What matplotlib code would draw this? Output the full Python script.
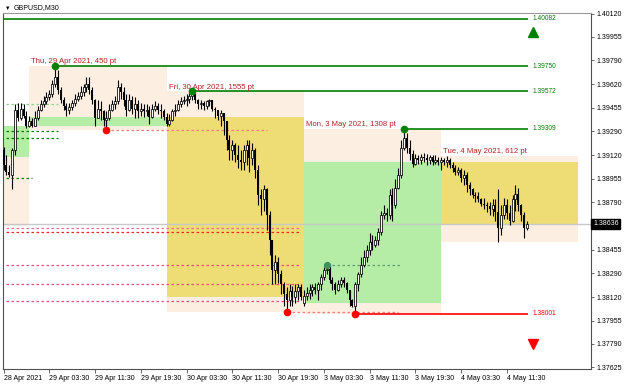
import matplotlib
matplotlib.use('Agg')
import matplotlib.pyplot as plt
import numpy as np
from matplotlib.patches import Rectangle
from matplotlib.transforms import blended_transform_factory

plt.rcParams['font.family'] = ['Liberation Sans', 'DejaVu Sans']

symbol = 'GBPUSD,M30'

# M30 bars, bar 0 = 28 Apr 2021 19:30 ... bar 183 = 4 May 2021 15:00
first_open = 1.3916
closes = [
    # 28 Apr (tail)
    1.3905, 1.3900, 1.3898, 1.3916, 1.3944, 1.3938, 1.3945, 1.3940, 1.3933,
    # 29 Apr
    1.3936, 1.3933, 1.3938, 1.3944, 1.3948, 1.3950, 1.3953, 1.3955, 1.3962, 1.3967,
    1.3958, 1.3951, 1.3947, 1.3944, 1.3946, 1.3949, 1.3952, 1.3954, 1.3957, 1.3960,
    1.3962, 1.3958, 1.3951, 1.3938, 1.3945, 1.3943, 1.3937, 1.3938, 1.3944, 1.3948,
    1.3950, 1.3960, 1.3957, 1.3951, 1.3944, 1.3951, 1.3945, 1.3948, 1.3943, 1.3945,
    1.3943, 1.3944, 1.3939, 1.3945, 1.3947, 1.3944, 1.3943, 1.3939,
    # 30 Apr
    1.3934, 1.3937, 1.3943, 1.3944, 1.3948, 1.3950, 1.3951, 1.3952, 1.3954, 1.3955,
    1.3951, 1.3948, 1.3949, 1.3947, 1.3950, 1.3951, 1.3945, 1.3944, 1.3940, 1.3942,
    1.3936, 1.3923, 1.3916, 1.3919, 1.3912, 1.3909, 1.3907, 1.3916, 1.3919, 1.3910,
    1.3916, 1.3902, 1.3884, 1.3881, 1.3888, 1.3870, 1.3852, 1.3831, 1.3837, 1.3828,
    1.3821, 1.3814, 1.3810, 1.3816, 1.3812, 1.3816, 1.3819, 1.3812,
    # 3 May
    1.3813, 1.3815, 1.3817, 1.3819, 1.3817, 1.3821, 1.3826, 1.3831, 1.3832, 1.3824,
    1.3821, 1.3817, 1.3821, 1.3824, 1.3822, 1.3817, 1.3810, 1.3806, 1.3821, 1.3828,
    1.3835, 1.3840, 1.3845, 1.3851, 1.3849, 1.3852, 1.3858, 1.3870, 1.3871, 1.3870,
    1.3884, 1.3877, 1.3889, 1.3898, 1.3917, 1.3924, 1.3917, 1.3913, 1.3906, 1.3910,
    1.3909, 1.3911, 1.3910, 1.3909, 1.3911, 1.3907, 1.3909, 1.3907,
    # 4 May
    1.3909, 1.3907, 1.3909, 1.3905, 1.3903, 1.3900, 1.3902, 1.3896, 1.3898, 1.3891,
    1.3888, 1.3884, 1.3883, 1.3881, 1.3878, 1.3877, 1.3876, 1.3874, 1.3877, 1.3872,
    1.3861, 1.3870, 1.3877, 1.3871, 1.3866, 1.3881, 1.3885, 1.3877, 1.3870, 1.3861,
    1.38636,
]
highs = [
    1.3918, 1.3912, 1.3905, 1.3917, 1.3948, 1.3949, 1.3949, 1.3948, 1.3943,
    1.3940, 1.3938, 1.3943, 1.3947, 1.3951, 1.3954, 1.3957, 1.3958, 1.3965, 1.3975,
    1.3972, 1.3960, 1.3953, 1.3949, 1.3949, 1.3951, 1.3955, 1.3957, 1.3961, 1.3962,
    1.3967, 1.3967, 1.3960, 1.3952, 1.3951, 1.3950, 1.3944, 1.3943, 1.3948, 1.3951,
    1.3954, 1.3965, 1.3963, 1.3960, 1.3955, 1.3955, 1.3954, 1.3953, 1.3951, 1.3949,
    1.3948, 1.3948, 1.3947, 1.3948, 1.3950, 1.3949, 1.3948, 1.3945,
    1.3942, 1.3941, 1.3945, 1.3948, 1.3951, 1.3953, 1.3954, 1.3955, 1.3956, 1.39572,
    1.3956, 1.3952, 1.3951, 1.3950, 1.3951, 1.3952, 1.3951, 1.3946, 1.3944, 1.3944,
    1.3942, 1.3936, 1.3926, 1.3923, 1.3921, 1.3919, 1.3916, 1.3919, 1.3923, 1.3923,
    1.3921, 1.3917, 1.3905, 1.3888, 1.3891, 1.3889, 1.3873, 1.3852, 1.3842, 1.3840,
    1.3831, 1.3823, 1.3819, 1.3821, 1.3820, 1.3821, 1.3821, 1.3821,
    1.3817, 1.3819, 1.3821, 1.3821, 1.3822, 1.3823, 1.3828, 1.3833, 1.3835, 1.3835,
    1.3826, 1.3823, 1.3824, 1.3826, 1.3826, 1.3823, 1.3817, 1.3811, 1.3823, 1.3830,
    1.3840, 1.3845, 1.3849, 1.3857, 1.3856, 1.3855, 1.3861, 1.3873, 1.3877, 1.3875,
    1.3888, 1.3889, 1.3895, 1.3903, 1.3923, 1.39309, 1.3928, 1.3923, 1.3916, 1.3913,
    1.3912, 1.3913, 1.3914, 1.3913, 1.3912, 1.3912, 1.3912, 1.3911,
    1.3911, 1.3910, 1.39118, 1.3910, 1.3907, 1.3905, 1.3904, 1.3903, 1.3902, 1.3900,
    1.3893, 1.3889, 1.3886, 1.3886, 1.3882, 1.3882, 1.3879, 1.3879, 1.3881, 1.3881,
    1.3888, 1.3877, 1.3882, 1.3881, 1.3877, 1.3884, 1.3891, 1.3889, 1.3878, 1.3872,
    1.3866,
]
lows = [
    1.3902, 1.3898, 1.3897, 1.3888, 1.3912, 1.3936, 1.3937, 1.3938, 1.3931,
    1.3932, 1.3932, 1.3933, 1.3937, 1.3943, 1.3946, 1.3948, 1.3951, 1.3953, 1.3960,
    1.3955, 1.3949, 1.3944, 1.3940, 1.3941, 1.3944, 1.3947, 1.3950, 1.3952, 1.3954,
    1.3957, 1.3955, 1.3948, 1.3933, 1.3938, 1.3937, 1.3933, 1.3930, 1.3937, 1.3943,
    1.3945, 1.3948, 1.3952, 1.3947, 1.3940, 1.3943, 1.3941, 1.3938, 1.3938, 1.3940,
    1.3939, 1.3940, 1.3934, 1.3938, 1.3943, 1.3941, 1.3938, 1.3937,
    1.3933, 1.3933, 1.3936, 1.3940, 1.3943, 1.3946, 1.3948, 1.3947, 1.3949, 1.3951,
    1.3949, 1.3945, 1.3945, 1.3944, 1.3945, 1.3947, 1.3943, 1.3938, 1.3937, 1.3933,
    1.3926, 1.3916, 1.3909, 1.3909, 1.3907, 1.3903, 1.3902, 1.3902, 1.3905, 1.3900,
    1.3905, 1.3896, 1.3877, 1.3870, 1.3873, 1.3859, 1.3842, 1.3821, 1.3821, 1.3822,
    1.3814, 1.3806, 1.38017, 1.3806, 1.3806, 1.3808, 1.3810, 1.3810,
    1.3806, 1.3810, 1.3811, 1.3813, 1.3814, 1.3810, 1.3817, 1.3824, 1.3828, 1.3822,
    1.3817, 1.3814, 1.3816, 1.3819, 1.3819, 1.3815, 1.3806, 1.3805, 1.38001, 1.3816,
    1.3826, 1.3833, 1.3837, 1.3842, 1.3845, 1.3847, 1.3849, 1.3856, 1.3867, 1.3866,
    1.3867, 1.3866, 1.3875, 1.3888, 1.3896, 1.3916, 1.3914, 1.3909, 1.3904, 1.3905,
    1.3906, 1.3906, 1.3907, 1.3905, 1.3906, 1.3905, 1.3906, 1.3905,
    1.3902, 1.3905, 1.3904, 1.3903, 1.3900, 1.3898, 1.3898, 1.3893, 1.3891, 1.3886,
    1.3884, 1.3882, 1.3879, 1.3879, 1.3876, 1.3874, 1.3872, 1.3870, 1.3869, 1.3866,
    1.38506, 1.3856, 1.3867, 1.3867, 1.3863, 1.3865, 1.3873, 1.3873, 1.3866, 1.3854,
    1.3859,
]

tick_bars = [0, 16, 32, 48, 64, 80, 96, 112, 128, 144, 160, 176]
tick_labels = ['28 Apr 2021', '29 Apr 03:30', '29 Apr 11:30', '29 Apr 19:30',
               '30 Apr 03:30', '30 Apr 11:30', '30 Apr 19:30', '3 May 03:30',
               '3 May 11:30', '3 May 19:30', '4 May 03:30', '4 May 11:30']
price_ticks = [1.40120, 1.39955, 1.39790, 1.39620, 1.39455, 1.39290, 1.39120, 1.38955,
               1.38790, 1.38620, 1.38455, 1.38290, 1.38120, 1.37955, 1.37790, 1.37625]

# daily ranges (first bar index of each day, 48 bars per day)
day_start = [-39, 9, 57, 105, 153]
day_names = ['Wed, 28 Apr 2021', 'Thu, 29 Apr 2021', 'Fri, 30 Apr 2021',
             'Mon, 3 May 2021', 'Tue, 4 May 2021']
day_open = [1.3911, 1.3933, 1.3939, 1.3808, 1.3907]
day_high = [1.3933, 1.3975, 1.39572, 1.39309, 1.39118]
day_low = [1.3862, 1.3930, 1.38017, 1.38001, 1.38506]
day_close = [1.3933, 1.3939, 1.3812, 1.3907, 1.38636]

# solid levels with price tags
level_price = [1.40082, 1.39750, 1.39572, 1.39309, 1.38001]
level_from = [-1, 18, 66, 140, 123]
level_color = ['#008000', '#008000', '#008000', '#008000', '#ff0000']

# dashed levels: price, from bar, to bar, colour
dash_price = [1.3948, 1.3929, 1.3924, 1.3896, 1.3861, 1.3858, 1.3835, 1.3821, 1.3809,
              1.3930, 1.38017, 1.3835]
dash_from = [-1, -1, -1, -1, -1, -1, -1, -1, -1, 36, 99, 113]
dash_to = [19, 19, 19, 10, 104, 104, 104, 104, 104, 92, 138, 139]
dash_color = ['#8fd08f', '#008000', '#008000', '#008000', '#f07090', '#ff2020',
              '#ee4f7a', '#ee4f7a', '#ee4f7a', '#f27d7d', '#f27d7d', '#5aa070']

high_dots = [(18, 1.3975), (66, 1.39572), (140, 1.39309)]
low_dots = [(36, 1.3930), (99, 1.38017), (123, 1.38001)]
swing_dot = (113, 1.3835)
arrow_up = (185, 1.3999)
arrow_down = (185, 1.3779)
current = 1.38636

fig = plt.figure(figsize=(6.25, 3.86), dpi=100)
ax = fig.add_axes([3 / 625, 17 / 386, 588 / 625, 356 / 386])

# daily boxes
for s, o, h, l, c in zip(day_start, day_open, day_high, day_low, day_close):
    ax.add_patch(Rectangle((s, l), 48, h - l, facecolor='#fcefe2', edgecolor='none', zorder=0))
    body = '#b5eca6' if c >= o else '#eedc74'
    ax.add_patch(Rectangle((s, min(o, c)), 48, abs(c - o), facecolor=body, edgecolor='none', zorder=0.5))

ax.axhline(current, color='#c8c8c8', lw=1, zorder=1)

for p, a, b, col in zip(dash_price, dash_from, dash_to, dash_color):
    ax.hlines(p, a, b, colors=col, linestyles=(0, (2, 2)), lw=0.9, zorder=1.5)

# candles
closes = np.array(closes)
highs = np.array(highs)
lows = np.array(lows)
x = np.arange(len(closes))
opens = np.r_[first_open, closes[:-1]]
opens[day_start[3]] = day_open[3]
up = closes >= opens
bottom = np.minimum(opens, closes)
height = np.maximum(np.abs(closes - opens), 0.00003)
ax.vlines(x, lows, highs, color='black', lw=0.8, zorder=3)
ax.bar(x[up], height[up], bottom=bottom[up], width=0.7, facecolor='white',
       edgecolor='black', lw=0.55, zorder=4)
ax.bar(x[~up], height[~up], bottom=bottom[~up], width=0.7, color='black', lw=0, zorder=4)

# levels
for p, a, col in zip(level_price, level_from, level_color):
    ax.hlines(p, a, 183.3, colors=col, lw=1.2, zorder=5)
    ax.text(185.1, p, f'{p:.5f}', color=col, fontsize=4.8, va='center', ha='left', zorder=6)

# day labels
for s, name, h, l in list(zip(day_start, day_names, day_high, day_low))[1:]:
    pts = round((h - l) * 1e5)
    ax.text(s + 0.7, h + 0.00004, f'{name}, {pts} pt', color='#b22222', fontsize=5.6,
            va='bottom', ha='left', zorder=6)

ax.plot([d[0] for d in high_dots], [d[1] for d in high_dots], 'o', color='#008000', ms=4.5, zorder=7)
ax.plot([d[0] for d in low_dots], [d[1] for d in low_dots], 'o', color='#ff0000', ms=4.5, zorder=7)
ax.plot(*swing_dot, 'o', color='#3f8f5f', ms=4.2, zorder=7)
ax.plot(*arrow_up, '^', color='#008000', ms=6.5, zorder=7)
ax.plot(*arrow_down, 'v', color='#ff0000', ms=6.5, zorder=7)

ax.set_xlim(-0.175, 205.4)
ax.set_ylim(1.37613, 1.40124)

ax.set_xticks(tick_bars)
ax.set_xticklabels(tick_labels, fontsize=5, ha='left')
ax.yaxis.tick_right()
ax.set_yticks(price_ticks)
# the 1.38620 label sits under the current price tag
ax.set_yticklabels(['' if abs(p - current) < 0.0003 else f'{p:.5f}' for p in price_ticks],
                   fontsize=5)
ax.tick_params(axis='x', length=3, width=0.6, pad=1.5, color='#505050')
ax.tick_params(axis='y', length=2.5, width=0.6, pad=1.5, color='#505050')
for sp in ax.spines.values():
    sp.set_color('#505050')
    sp.set_linewidth(0.8)
ax.spines['top'].set_color('#9a9a9a')

trans = blended_transform_factory(ax.transAxes, ax.transData)
ax.text(1.0 + 2 / 588, current, f'{current:.5f}', transform=trans, color='white', fontsize=5,
        va='center', ha='left', clip_on=False, zorder=10,
        bbox=dict(boxstyle='square,pad=0.25', facecolor='black', edgecolor='black'))

fig.text(5 / 625, 1 - 8 / 386, '\u25bc', fontsize=4, va='center', ha='left')
fig.text(14 / 625, 1 - 8 / 386, symbol, fontsize=5, va='center', ha='left')

fig.savefig('out.png', dpi=100, facecolor='white')
